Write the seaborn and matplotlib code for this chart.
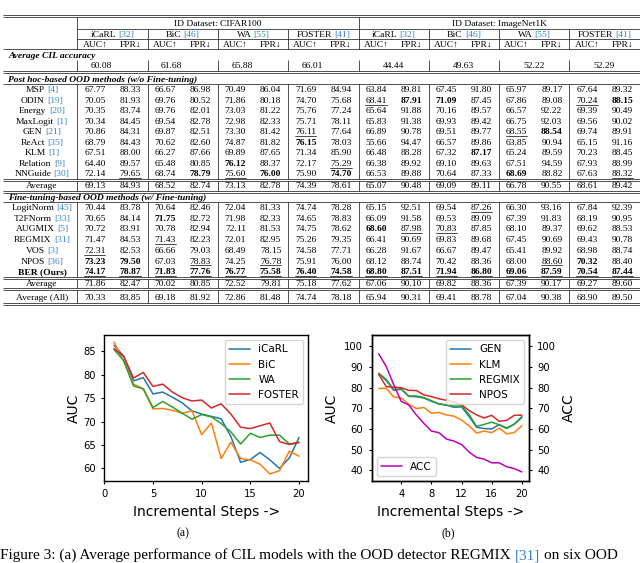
import pandas as pd
import seaborn as sns
import matplotlib.pyplot as plt
from matplotlib.ticker import MultipleLocator

# ---------------- table data ----------------
cil_models = ['iCaRL', 'BiC', 'WA', 'FOSTER']
cil_refs = ['32', '46', '55', '41']
datasets = ['CIFAR100', 'ImageNet1K']
cil_acc = [60.08, 61.68, 65.88, 66.01, 44.44, 49.63, 52.22, 52.29]

posthoc_names = [('MSP', '4'), ('ODIN', '19'), ('Energy', '20'), ('MaxLogit', '1'),
                 ('GEN', '21'), ('ReAct', '35'), ('KLM', '1'), ('Relation', '9'),
                 ('NNGuide', '30')]
posthoc_vals = [
    [67.77, 88.33, 66.67, 86.98, 70.49, 86.04, 71.69, 84.94, 63.84, 89.81, 67.45, 91.80, 65.97, 89.17, 67.64, 89.32],
    [70.05, 81.93, 69.76, 80.52, 71.86, 80.18, 74.70, 75.68, 68.41, 87.91, 71.09, 87.45, 67.86, 89.08, 70.24, 88.15],
    [70.35, 83.74, 69.76, 82.01, 73.03, 81.22, 75.76, 77.24, 65.64, 91.88, 70.16, 89.57, 66.57, 92.22, 69.39, 90.49],
    [70.34, 84.45, 69.54, 82.78, 72.98, 82.33, 75.71, 78.11, 65.83, 91.38, 69.93, 89.42, 66.75, 92.03, 69.56, 90.02],
    [70.86, 84.31, 69.87, 82.51, 73.30, 81.42, 76.11, 77.64, 66.89, 90.78, 69.51, 89.77, 68.55, 88.54, 69.74, 89.91],
    [68.79, 84.43, 70.62, 82.60, 74.87, 81.82, 76.15, 78.03, 55.66, 94.47, 66.57, 89.86, 63.85, 90.94, 65.15, 91.16],
    [67.51, 88.00, 66.27, 87.66, 69.89, 87.65, 71.34, 85.90, 66.48, 88.28, 67.32, 87.17, 65.24, 89.59, 70.23, 88.45],
    [64.40, 89.57, 65.48, 80.85, 76.12, 88.37, 72.17, 75.29, 66.38, 89.92, 69.10, 89.63, 67.51, 94.59, 67.93, 88.99],
    [72.14, 79.65, 68.74, 78.79, 75.60, 76.00, 75.90, 74.70, 66.53, 89.88, 70.64, 87.33, 68.69, 88.82, 67.63, 88.32],
]
# b = bold, u = underline, B = bold + underline
posthoc_marks = ['................', '........ubb...ub', '................', '................',
                 '......u.....ub..', '......b.........', '...........b....', '....b..u........',
                 '.u.bub.b....b..u']
posthoc_avg = [69.13, 84.93, 68.52, 82.74, 73.13, 82.78, 74.39, 78.61, 65.07, 90.48, 69.09, 89.11, 66.78, 90.55, 68.61, 89.42]

finetune_names = [('LogitNorm', '45'), ('T2FNorm', '33'), ('AUGMIX', '5'), ('REGMIX', '31'),
                  ('VOS', '3'), ('NPOS', '36'), ('BER (Ours)', None)]
finetune_vals = [
    [70.44, 83.78, 70.64, 82.46, 72.04, 81.33, 74.74, 78.28, 65.15, 92.51, 69.54, 87.26, 66.30, 93.16, 67.84, 92.39],
    [70.65, 84.14, 71.75, 82.72, 71.98, 82.33, 74.65, 78.83, 66.09, 91.58, 69.53, 89.09, 67.39, 91.83, 68.19, 90.95],
    [70.72, 83.91, 70.78, 82.94, 72.11, 81.53, 74.75, 78.62, 68.60, 87.98, 70.83, 87.85, 68.10, 89.37, 69.62, 88.53],
    [71.47, 84.53, 71.43, 82.23, 72.01, 82.95, 75.26, 79.35, 66.41, 90.69, 69.83, 89.68, 67.45, 90.69, 69.43, 90.78],
    [72.31, 82.53, 66.66, 79.03, 68.49, 78.15, 74.58, 77.71, 66.28, 91.67, 66.67, 89.47, 65.41, 89.92, 68.98, 88.74],
    [73.23, 79.50, 67.03, 78.83, 74.25, 76.78, 75.91, 76.00, 68.12, 88.74, 70.42, 88.36, 68.00, 88.60, 70.32, 88.40],
    [74.17, 78.87, 71.83, 77.76, 76.77, 75.58, 76.40, 74.58, 68.80, 87.51, 71.94, 86.80, 69.06, 87.59, 70.54, 87.44],
]
finetune_marks = ['...........u....', '..b.............', '........buu.....', '..u.............',
                  'u...............', 'bb.u.u.......ub.', 'BBBBBBBBBBBBBBBB']
finetune_avg = [71.86, 82.47, 70.02, 80.85, 72.52, 79.81, 75.18, 77.62, 67.06, 90.10, 69.82, 88.36, 67.39, 90.17, 69.27, 89.60]
all_avg = [70.33, 83.85, 69.18, 81.92, 72.86, 81.48, 74.74, 78.18, 65.94, 90.31, 69.41, 88.78, 67.04, 90.38, 68.90, 89.50]

# ---------------- curve data ----------------
steps = list(range(1, 21))
icarl_auc = [86.3, 84.0, 78.7, 79.4, 75.9, 76.3, 75.2, 74.0, 72.3, 71.6, 71.1, 70.6, 66.8, 61.3, 61.9, 63.4, 61.8, 60.0, 62.2, 66.6]
bic_auc = [87.0, 82.8, 78.0, 77.0, 72.7, 72.8, 72.4, 71.8, 72.3, 67.2, 69.7, 62.1, 65.6, 62.1, 61.8, 60.9, 58.8, 59.5, 63.7, 62.6]
wa_auc = [85.4, 83.0, 77.6, 77.0, 73.0, 74.3, 73.1, 71.8, 70.5, 71.5, 71.0, 69.6, 67.8, 65.2, 67.5, 66.6, 67.1, 67.1, 65.2, 65.6]
foster_auc = [85.6, 83.9, 79.3, 80.5, 77.5, 78.0, 76.3, 75.1, 74.4, 74.6, 72.9, 73.8, 71.6, 68.8, 68.5, 69.1, 69.7, 65.7, 65.1, 65.5]

gen_auc = [86.8, 83.5, 78.7, 79.2, 75.8, 75.6, 75.0, 73.4, 72.2, 71.5, 70.5, 70.7, 66.0, 60.8, 60.2, 60.0, 62.1, 60.5, 62.3, 65.5]
klm_auc = [79.6, 79.7, 75.5, 75.0, 71.9, 69.9, 70.4, 67.6, 68.0, 66.8, 66.2, 64.3, 61.5, 58.0, 59.0, 58.2, 60.4, 57.6, 58.3, 61.6]
regmix_auc = [87.0, 84.0, 79.0, 79.5, 75.9, 76.0, 75.2, 73.7, 72.0, 71.7, 71.1, 71.2, 67.0, 61.2, 62.2, 63.3, 62.0, 60.2, 62.4, 66.0]
npos_auc = [86.5, 80.5, 80.2, 80.0, 78.7, 78.6, 76.5, 75.7, 74.6, 73.9, 73.1, 71.8, 68.9, 66.8, 65.3, 66.6, 63.7, 64.2, 66.6, 66.7]
acc = [96.4, 90.3, 81.4, 73.3, 71.6, 66.8, 62.7, 59.0, 58.2, 55.1, 54.1, 52.5, 48.8, 46.2, 45.4, 43.6, 43.6, 41.7, 40.8, 39.2]

sns.set_style("ticks", {"axes.edgecolor": "black", "xtick.color": "black",
                        "ytick.color": "black", "text.color": "black",
                        "axes.labelcolor": "black"})
plt.rcParams['font.family'] = ['DejaVu Sans']

W, H = 640, 563
fig = plt.figure(figsize=(6.4, 5.63), dpi=100)

# full-figure axes in pixel units for the table and captions
tab = fig.add_axes([0, 0, 1, 1])
tab.set_xlim(0, W)
tab.set_ylim(H, 0)
tab.axis('off')

SERIF = ['Liberation Serif', 'DejaVu Serif']
FS = 6.8
CITE = '#3a80c8'
x0, gw = 77.3, 70.3
edges = [x0 + gw * i for i in range(9)]
col_x = [x0 + gw / 4 + gw / 2 * k for k in range(16)]
grp_x = [x0 + gw / 2 + gw * k for k in range(8)]


def hline(y, x1=3, x2=640):
    tab.plot([x1, x2], [y, y], color='#222222', lw=0.55, solid_capstyle='butt')


def vline(x, y1, y2):
    tab.plot([x, x], [y1, y2], color='#222222', lw=0.55, solid_capstyle='butt')


def txt(x, y, s, ha='center', weight='normal', style='normal', size=FS, color='black'):
    return tab.text(x, y + 3.3, s, ha=ha, va='baseline', fontsize=size, family=SERIF,
                    fontweight=weight, fontstyle=style, color=color)


def cite(x, y, name, ref, size=FS):
    full = tab.text(x, y + 3.3, f'{name} [{ref}]', ha='center', va='baseline',
                    fontsize=size, family=SERIF, alpha=0)
    tab.annotate(name, xy=(0, 0), xycoords=full, ha='left', va='bottom',
                 fontsize=size, family=SERIF)
    tab.annotate(f'[{ref}]', xy=(1, 0), xycoords=full, ha='right', va='bottom',
                 fontsize=size, family=SERIF, color=CITE)


def value_row(y, vals, marks=None):
    marks = marks or '.' * 16
    for cx, v, m in zip(col_x, vals, marks):
        bold = m in 'bB'
        txt(cx, y, f'{v:.2f}', weight='bold' if bold else 'normal')
        if m in 'uB':
            tab.plot([cx - 10.6, cx + 10.6], [y + 5.0, y + 5.0], color='black', lw=0.5)


# rules
for y in (15, 16.8):
    hline(y)
hline(28.5, x0)
hline(39.3, x0)
hline(49.3)
for y in (71, 72.9, 83.5, 179.2, 181.2, 190.8, 192.8, 202.3, 277.2, 279.2, 287.8, 289.9, 302.8, 305):
    hline(y)

vline(edges[0], 16.8, 49.3)
vline(edges[4], 16.8, 49.3)
for e in edges[1:8]:
    if e != edges[4]:
        vline(e, 28.5, 49.3)
for y1, y2 in ((59.5, 71), (83.5, 179.2), (181.2, 190.8), (202.3, 277.2),
               (279.2, 287.8), (289.9, 302.8)):
    for e in edges[:8]:
        vline(e, y1, y2)

# header
for k, ds in enumerate(datasets):
    txt(edges[4 * k] + 2 * gw, 22.5, f'ID Dataset: {ds}')
for k in range(8):
    cite(grp_x[k], 33.5, cil_models[k % 4], cil_refs[k % 4])
for k, cx in enumerate(col_x):
    txt(cx, 43.7, 'AUC↑' if k % 2 == 0 else 'FPR↓')

txt(8, 55, 'Average CIL accuracy', ha='left', weight='bold', style='italic')
for k, a in enumerate(cil_acc):
    txt(grp_x[k] - (11 if k < 4 else 0), 65, f'{a:.2f}')

txt(8, 78.7, 'Post hoc-based OOD methods (w/o Fine-tuning)', ha='left', weight='bold', style='italic')
NAME_X = 42
for i, ((name, ref), vals, marks) in enumerate(zip(posthoc_names, posthoc_vals, posthoc_marks)):
    y = 89 + 10.5 * i
    cite(NAME_X, y, name, ref)
    value_row(y, vals, marks)
txt(NAME_X, 184.6, 'Average')
value_row(184.6, posthoc_avg)

txt(8, 196.8, 'Fine-tuning-based OOD methods (w/ Fine-tuning)', ha='left', weight='bold', style='italic')
for i, ((name, ref), vals, marks) in enumerate(zip(finetune_names, finetune_vals, finetune_marks)):
    y = 206.5 + 10.75 * i
    if ref is None:
        txt(NAME_X, y, name, weight='bold')
    else:
        cite(NAME_X, y, name, ref)
    value_row(y, vals, marks)
txt(NAME_X, 282.6, 'Average')
value_row(282.6, finetune_avg)
txt(NAME_X, 296.2, 'Average (All)')
value_row(296.2, all_avg)

# ---------------- charts ----------------
TICK_FS, LAB_FS, LEG_FS = 7.2, 10, 7.5
bottom, height = 1 - 481 / H, 146 / H

df_a = pd.DataFrame({'step': steps * 4,
                     'AUC': icarl_auc + bic_auc + wa_auc + foster_auc,
                     'model': sum([[m] * len(steps) for m in cil_models], [])})
ax_a = fig.add_axes([104.3 / W, bottom, 204 / W, height])
sns.lineplot(data=df_a, x='step', y='AUC', hue='model', ax=ax_a, lw=1.1,
             palette=['tab:blue', 'tab:orange', 'tab:green', 'tab:red'])
ax_a.set_xlim(0, 20.95)
ax_a.set_ylim(57.3, 88.5)
ax_a.set_xticks([0, 5, 10, 15, 20])
ax_a.set_xlabel('Incremental Steps ->', fontsize=LAB_FS)
ax_a.set_ylabel('AUC', fontsize=LAB_FS, labelpad=2)
ax_a.tick_params(labelsize=TICK_FS, length=2.5, width=0.8)
sns.move_legend(ax_a, 'upper right', title=None, fontsize=LEG_FS)

ood_models = ['GEN', 'KLM', 'REGMIX', 'NPOS']
df_b = pd.DataFrame({'step': steps * 4,
                     'AUC': gen_auc + klm_auc + regmix_auc + npos_auc,
                     'model': sum([[m] * len(steps) for m in ood_models], [])})
ax_b = fig.add_axes([371.5 / W, bottom, 157.5 / W, height])
sns.lineplot(data=df_b, x='step', y='AUC', hue='model', ax=ax_b, lw=1.1,
             palette=['tab:blue', 'tab:orange', 'tab:green', 'tab:red'])
ax_b.set_xlim(0.05, 20.95)
ax_b.set_ylim(34.8, 105.5)
ax_b.xaxis.set_major_locator(MultipleLocator(4))
ax_b.yaxis.set_major_locator(MultipleLocator(10))
ax_b.set_xlabel('Incremental Steps ->', fontsize=LAB_FS)
ax_b.set_ylabel('AUC', fontsize=LAB_FS)
ax_b.tick_params(labelsize=TICK_FS, length=2.5, width=0.8)
sns.move_legend(ax_b, 'upper right', title=None, fontsize=LEG_FS)

ax_c = ax_b.twinx()
sns.lineplot(x=steps, y=acc, ax=ax_c, color='m', lw=1.1, label='ACC')
ax_c.set_ylim(34.8, 105.5)
ax_c.yaxis.set_major_locator(MultipleLocator(10))
ax_c.set_ylabel('ACC', fontsize=LAB_FS)
ax_c.tick_params(labelsize=TICK_FS, length=2.5, width=0.8)
ax_c.legend(loc='lower left', fontsize=LEG_FS)

for ax in (ax_a, ax_b, ax_c):
    for sp in ax.spines.values():
        sp.set_linewidth(1.0)
        sp.set_visible(True)

# sub-captions and figure caption
txt(183, 533, '(a)', size=8.5)
txt(448, 533, '(b)', size=8.5)
CAP_FS = 11.0
cap1 = tab.text(0.5, 559.3, 'Figure 3: (a) Average performance of CIL models with the OOD detector REGMIX',
                ha='left', va='baseline', fontsize=CAP_FS, family=SERIF)
cap2 = tab.annotate('[31]', xy=(1, 0), xycoords=cap1, xytext=(CAP_FS * 0.25, 0),
                    textcoords='offset points', ha='left', va='bottom',
                    fontsize=CAP_FS, family=SERIF, color=CITE)
tab.annotate('on six OOD', xy=(1, 0), xycoords=cap2, xytext=(CAP_FS * 0.25, 0),
             textcoords='offset points', ha='left', va='bottom', fontsize=CAP_FS, family=SERIF)

fig.savefig('out.png', dpi=100)
